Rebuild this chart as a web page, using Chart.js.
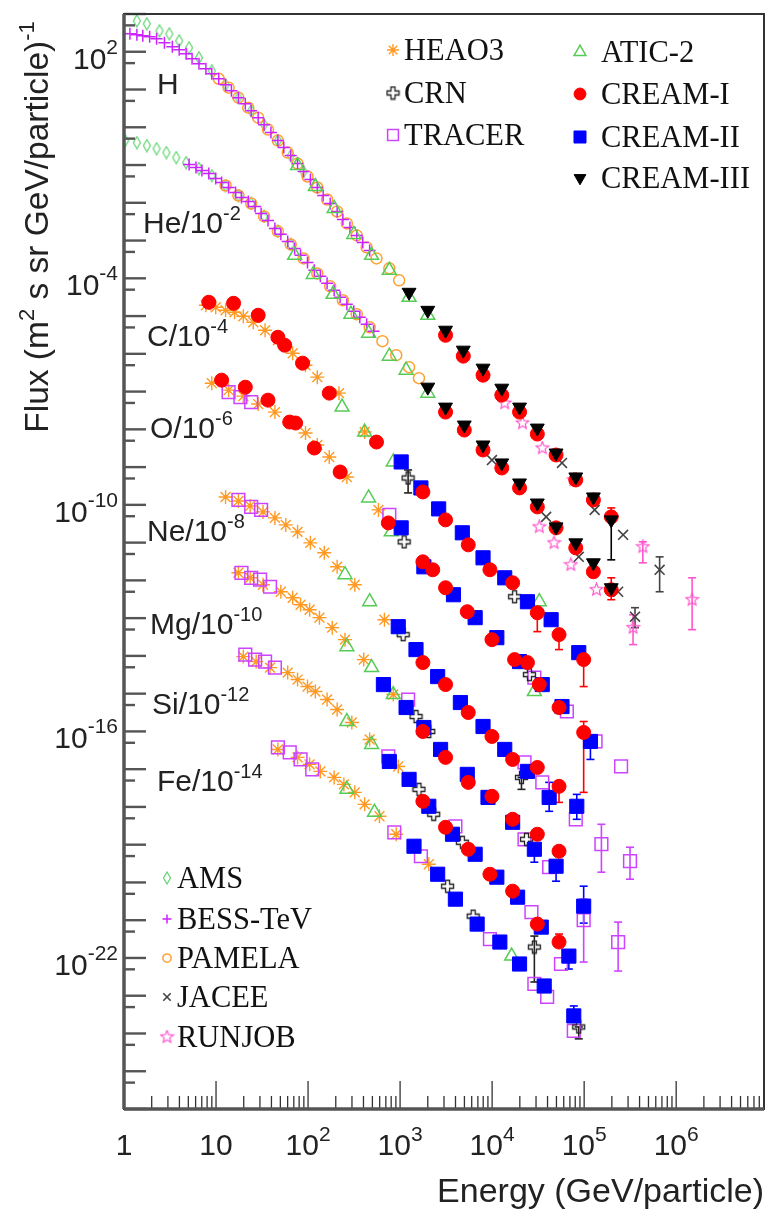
<!DOCTYPE html>
<html>
<head>
<meta charset="utf-8">
<script src="https://cdn.jsdelivr.net/npm/chart.js@4.4.1/dist/chart.umd.min.js"></script>
<style>
  html, body { margin: 0; padding: 0; background: #fff; }
  #wrap { width: 775px; height: 1210px; }
</style>
</head>
<body>
<div id="wrap"><canvas id="flux"></canvas></div>
<script>
// [energy GeV/particle, flux] as plotted (already multiplied by the row factor)
const ams = [
  // H
  [1.38, 659], [1.77, 550], [2.43, 359], [3.11, 299], [3.98, 195], [5.10, 128], [6.53, 69.4], [8.99, 31.5],
  [12.7, 13.4], [17.5, 6.08], [24.1, 2.75], [33.3, 1.17], [47.0, 0.444], [64.8, 0.178], [89.3, 0.0673],
  // He/10^-2
  [1.03, 0.444], [1.38, 0.393], [1.77, 0.327], [2.26, 0.273], [2.89, 0.214], [3.70, 0.158], [4.73, 0.116],
  [6.53, 0.0807], [8.99, 0.0527], [12.7, 0.0287], [17.5, 0.0156], [24.1, 0.00959], [33.3, 0.00435],
  [47.0, 0.00175], [64.8, 7.9e-4]
];
const bess = [
  [1.16, 299], [1.38, 281], [1.60, 265], [1.90, 249], [2.26, 221], [2.75, 173], [3.35, 136], [3.98, 113],
  [4.73, 88.5], [5.49, 65.3], [6.53, 48.2], [7.76, 35.5], [8.99, 26.2], [10.7, 19.3], [12.7, 13.4], [14.7, 9.31],
  [17.5, 6.08], [20.8, 4.22], [24.1, 2.75], [28.7, 1.80], [33.3, 1.17], [39.5, 0.722], [47.0, 0.444], [54.5, 0.290],
  [64.8, 0.178], [76.9, 0.109], [89.3, 0.0673], [106, 0.0413], [126, 0.0254], [146, 0.0156], [174, 0.00959],
  [207, 0.00589], [239, 0.00362], [285, 0.00222], [338, 0.00137], [393, 8.93e-4], [467, 5.48e-4],
  [5.10, 0.103], [6.06, 0.0859], [7.03, 0.0714], [8.35, 0.0596], [9.93, 0.0440], [11.5, 0.0344], [13.7, 0.0254],
  [16.3, 0.0187], [18.9, 0.0138], [22.4, 0.0108], [26.6, 0.0080], [30.9, 0.00522], [36.7, 0.00341],
  [43.6, 0.00209], [50.6, 0.00146], [60.1, 9.5e-4], [71.5, 6.2e-4], [82.9, 4.05e-4], [98.6, 2.64e-4],
  [117, 1.63e-4], [136, 1.13e-4], [161, 7.36e-5], [192, 4.81e-5], [223, 3.14e-5], [264, 2.05e-5],
  [314, 1.34e-5], [365, 9.3e-6], [433, 6.07e-6], [515, 3.96e-6]
];
const pamela = [
  [10.7, 19.3], [13.7, 11.2], [17.5, 6.08], [22.4, 3.31], [28.7, 1.80], [36.7, 0.867], [47.0, 0.444],
  [60.1, 0.214], [76.9, 0.109], [98.6, 0.0497], [126, 0.0254], [161, 0.0122], [207, 0.00589], [264, 0.00284],
  [338, 0.00137], [433, 6.58e-4], [554, 3.37e-4], [764, 1.84e-4], [977, 8.83e-5],
  [12.7, 0.0287], [17.5, 0.0156], [24.1, 0.00959], [33.3, 0.00435], [47.0, 0.00175], [64.8, 7.9e-4],
  [89.3, 3.37e-4], [126, 1.35e-4], [174, 6.14e-5], [239, 2.62e-5], [338, 1.12e-5], [467, 5.06e-6],
  [643, 2.16e-6], [908, 9.2e-7], [1252, 4.44e-7], [1603, 2.27e-7]
];
const jacee = [
  [57440, 1.29e-9], [1.30e5, 7.36e-11], [2.65e5, 1.61e-11], [6.61e5, 1.91e-12],
  [9955, 1.54e-9], [38650, 4.81e-11], [87350, 4.2e-12], [2.34e5, 5.0e-13], [3.57e5, 1.09e-13]
];
const runjob = [
  [13710, 4.95e-8], [21380, 1.47e-8], [35070, 3.20e-9], [77150, 4.57e-10], [4.34e5, 7.74e-12], [1.49e6, 3.08e-13],
  [32540, 2.61e-11], [47100, 9.86e-12], [71640, 2.59e-12], [1.36e5, 5.65e-13], [3.40e5, 5.6e-14]
];
const heao3 = [
  // C
  [7.76, 1.93e-5], [9.93, 1.71e-5], [12.7, 1.42e-5], [15.9, 1.26e-5], [19.8, 9.9e-6], [25.4, 6.86e-6],
  [34.1, 4.22e-6], [47.0, 2.29e-6], [68.1, 1.04e-6], [93.8, 5.0e-7], [126, 2.41e-7], [217, 9.1e-8], [412, 8.47e-9],
  // O
  [8.99, 1.67e-7], [13.7, 1.09e-7], [19.8, 7.59e-8], [28.7, 4.67e-8], [43.6, 2.86e-8], [63.2, 1.56e-8],
  [93.8, 7.98e-9], [126, 3.85e-9], [170, 1.85e-9], [264, 5.48e-10], [582, 7.36e-11],
  // Ne
  [12.7, 1.62e-10], [17.5, 1.27e-10], [23.5, 9.37e-11], [32.4, 6.52e-11], [43.6, 4.52e-11], [57.3, 2.95e-11],
  [76.9, 1.93e-11], [106, 9.86e-12], [150, 5.37e-12], [207, 2.29e-12], [322, 7.66e-13], [676, 9.1e-14],
  // Mg
  [17.5, 1.59e-12], [23.5, 1.17e-12], [32.4, 7.66e-13], [50.6, 5.0e-13], [68.1, 3.47e-13], [82.9, 2.27e-13],
  [104, 1.67e-13], [133, 1.03e-13], [183, 5.6e-14], [252, 2.69e-14], [403, 7.98e-15], [843, 9.46e-16],
  // Si
  [19.8, 9.57e-15], [27.3, 7.06e-15], [38.6, 4.90e-15], [60.1, 3.61e-15], [76.9, 2.36e-15], [98.6, 1.54e-15],
  [120, 1.14e-15], [161, 6.98e-16], [207, 3.80e-16], [299, 1.72e-16], [467, 6.12e-17], [955, 1.18e-17],
  // Fe
  [47.0, 3.33e-17], [76.9, 2.05e-17], [104, 1.34e-17], [136, 8.73e-18], [192, 6.05e-18], [245, 3.95e-18],
  [322, 2.43e-18], [412, 1.17e-18], [597, 5.65e-19], [908, 1.89e-19], [2051, 3.04e-20]
];
const crn = [
  [1222, 5.15e-10], [17540, 3.69e-13], [1107, 1.05e-11], [25420, 3.2e-15], [1079, 3.65e-14], [20850, 6.05e-18],
  [1489, 2.48e-16], [2051, 9.95e-17], [23600, 1.39e-19], [1603, 2.92e-18], [2319, 6.38e-19], [4745, 1.16e-19],
  [3280, 7.96e-21], [6225, 1.28e-21], [28770, 1.95e-22], [87350, 1.49e-24]
];
const tracer = [
  [13.7, 9.68e-8], [18.4, 7.14e-8], [24.1, 5.26e-8], [764, 5.42e-11], [28770, 2.67e-15], [64900, 3.37e-16],
  [1.33e5, 5.42e-17], [2.52e5, 1.18e-17],
  [17.5, 1.35e-10], [24.1, 8.83e-11], [30.9, 7.36e-11], [22490, 1.51e-17], [35070, 4.47e-18], [81100, 4.70e-19],
  [1.54e5, 1.03e-19], [3.15e5, 3.65e-20],
  [18.9, 1.59e-12], [24.1, 1.17e-12], [30.1, 1.04e-12], [38.6, 6.78e-13], [1222, 6.98e-16], [22490, 1.39e-19],
  [41660, 2.54e-20], [98800, 1.01e-21],
  [20.8, 1.08e-14], [26.6, 7.98e-15], [34.1, 7.06e-15], [43.6, 4.90e-15], [745, 2.17e-17], [3990, 3.07e-19],
  [26730, 1.64e-21], [55980, 6.92e-23], [2.34e5, 2.64e-22],
  [47.0, 3.77e-17], [63.2, 2.77e-17], [82.9, 1.81e-17], [111, 9.86e-18], [865, 2.13e-19], [1683, 4.94e-20],
  [9465, 3.16e-22], [28770, 2.05e-23], [39630, 9.27e-24], [77150, 1.17e-24]
];
const atic = [
  [76.9, 0.0969], [120, 0.0270], [192, 0.00708], [314, 0.00145], [490, 4.05e-4], [764, 1.63e-4], [1252, 3.14e-5], [2000, 1.05e-5],
  [71.5, 4.05e-4], [114, 1.27e-4], [187, 3.77e-5], [292, 1.12e-5], [455, 3.52e-6], [764, 8.67e-7], [1162, 3.69e-7], [2000, 9.1e-8],
  [234, 3.88e-8], [412, 8.47e-9], [843, 1.37e-9], [32540, 2.72e-13],
  [455, 1.53e-10], [803, 1.93e-11], [28770, 1.14e-15],
  [252, 1.41e-12], [467, 2.72e-13],
  [264, 1.76e-14], [490, 4.90e-15], [843, 9.46e-16],
  [264, 1.83e-16], [490, 4.52e-17],
  [264, 2.92e-18], [527, 7.21e-19], [16300, 1.12e-22]
];
const creamI = [
  // H, He
  [3119, 3.10e-6], [4860, 8.67e-7], [7965, 2.72e-7], [12740, 8.05e-8], [19860, 2.86e-8], [30980, 7.5e-9],
  [49540, 2.09e-9], [81100, 4.57e-10], [1.26e5, 1.35e-10], [1.97e5, 4.81e-11],
  [3119, 2.86e-8], [4985, 9.57e-9], [7965, 2.84e-9], [12740, 9.48e-10], [19860, 2.81e-10], [30980, 8.83e-11],
  [49540, 2.46e-11], [81100, 7.28e-12], [1.26e5, 1.69e-12], [1.97e5, 5.65e-13],
  // C
  [8.35, 2.32e-5], [15.5, 2.18e-5], [28.7, 1.05e-5], [47.0, 2.75e-6], [55.8, 1.69e-6], [87.1, 5.66e-7],
  [170, 9.1e-8], [554, 4.61e-9], [1769, 2.20e-10], [3119, 4.0e-11], [5505, 8.73e-12], [9465, 1.91e-12],
  [16710, 8.65e-13], [30980, 1.39e-13], [53330, 3.66e-14], [98800, 7.98e-15],
  // O
  [11.5, 2.01e-7], [20.8, 1.31e-7], [36.7, 5.94e-8], [63.2, 1.56e-8], [73.3, 1.47e-8], [117, 3.2e-9],
  [223, 7.43e-10], [745, 3.33e-11], [1769, 3.10e-12], [2264, 1.91e-12], [3119, 6.38e-13], [5370, 1.48e-13],
  [9955, 2.69e-14], [17540, 7.98e-15], [24200, 6.65e-15], [32540, 1.74e-15], [53330, 4.30e-16], [98800, 9.37e-17],
  // Ne, Mg, Si
  [1769, 6.65e-15], [3119, 1.74e-15], [5505, 3.17e-16], [9955, 7.35e-17], [16710, 1.81e-17], [30980, 1.11e-17], [53330, 3.51e-18],
  [1769, 9.95e-17], [3119, 2.05e-17], [5505, 4.47e-18], [9955, 1.91e-18], [16710, 4.70e-19], [30980, 1.89e-19], [53330, 6.7e-20],
  [1769, 1.41e-18], [3119, 2.89e-19], [5505, 7.57e-20], [9465, 1.65e-20], [16710, 5.88e-21], [30980, 7.89e-22], [53330, 2.64e-22]
];
const creamII = [
  [1028, 1.37e-9], [1683, 2.81e-10], [2624, 7.82e-11], [4745, 1.82e-11], [7965, 3.96e-12], [13710, 1.17e-12],
  [24200, 2.72e-13], [43750, 9.1e-14], [87350, 1.22e-14],
  [1028, 2.46e-11], [1813, 2.29e-12], [3800, 4.17e-13], [6540, 1.03e-13], [11250, 3.04e-14], [19860, 7.06e-15],
  [35070, 1.74e-15], [57440, 4.56e-16], [1.17e5, 5.42e-17],
  [955, 5.94e-14], [1489, 1.47e-14], [2560, 2.83e-15], [4520, 5.82e-16], [7965, 1.35e-16], [13710, 3.33e-17],
  [24200, 8.73e-18], [41660, 1.79e-18], [83150, 1.04e-18],
  [659, 1.74e-15], [1162, 4.30e-16], [1813, 1.27e-16], [2755, 3.33e-17], [5370, 7.28e-18], [9020, 1.79e-18],
  [16710, 3.92e-19], [28770, 7.57e-20], [49540, 2.69e-20], [98800, 2.36e-21],
  [764, 1.60e-17], [1252, 5.37e-18], [2051, 1.04e-18], [3710, 1.89e-19], [6540, 5.58e-20], [11250, 1.38e-20],
  [18920, 4.07e-21], [34200, 6.56e-22], [68200, 1.12e-22],
  [1416, 9.1e-20], [2560, 1.65e-20], [3990, 3.61e-21], [6875, 7.89e-22], [12130, 2.64e-22], [19860, 6.92e-23],
  [36810, 1.81e-23], [77150, 2.92e-24]
];
const creamIII = [
  [1252, 4.26e-5], [2000, 1.42e-5], [3119, 4.22e-6], [4860, 1.25e-6], [7965, 4.17e-7], [12740, 1.23e-7],
  [19860, 3.88e-8], [30980, 1.08e-8], [49540, 2.36e-9], [81100, 5.48e-10], [1.26e5, 1.62e-10], [1.97e5, 4.0e-11],
  [2000, 1.31e-7], [3119, 3.88e-8], [4985, 1.30e-8], [7965, 3.85e-9], [12740, 1.29e-9], [19860, 3.80e-10],
  [30980, 1.12e-10], [49540, 2.61e-11], [81100, 9.86e-12], [1.26e5, 2.92e-12], [1.97e5, 6.38e-13]
];

// error bars: [energy, low, high]
const jaceeErr = [[6.61e5, 5.0e-13, 4.2e-12], [3.57e5, 5.6e-14, 1.89e-13]];
const runjobErr = [[4.34e5, 2.92e-12, 1.05e-11], [1.49e6, 4.95e-14, 1.17e-12], [3.40e5, 1.99e-14, 1.23e-13]];
const creamIIIErr = [[1.97e5, 3.5e-12, 4.0e-11]];
const creamIErr = [
  [1.97e5, 4.81e-11, 8.3e-11], [1.97e5, 3.08e-13, 1.17e-12], [30980, 4.39e-14, 1.39e-13], [53330, 1.47e-14, 3.66e-14],
  [98800, 1.54e-15, 7.98e-15], [98800, 2.43e-18, 1.83e-16], [53330, 1.32e-18, 3.51e-18], [53330, 2.64e-22, 4.30e-22]
];
const creamIIErr = [
  [1.17e5, 1.81e-17, 5.42e-17], [41660, 7.66e-19, 4.47e-18], [83150, 4.70e-19, 2.15e-18], [28770, 3.44e-20, 7.57e-20],
  [49540, 1.08e-20, 2.69e-20], [98800, 8.38e-22, 7.96e-21], [68200, 5.09e-23, 1.12e-22], [77150, 2.92e-24, 5.36e-24]
];
const tracerErr = [[1.54e5, 1.87e-20, 3.47e-19], [3.15e5, 1.22e-20, 8.55e-20], [98800, 7.8e-23, 3.61e-21], [2.34e5, 4.5e-23, 8.9e-22]];
const crnErr = [[1222, 2.07e-10, 8.4e-10], [20850, 2.92e-18, 6.05e-18], [28770, 2.31e-23, 3.80e-22], [87350, 7.2e-25, 1.49e-24]];

const sans = '"Liberation Sans", Arial, sans-serif';
const serif = '"Liberation Serif", "Times New Roman", serif';

function mark(w, h, fn) {
  const c = document.createElement('canvas');
  c.width = w; c.height = h;
  fn(c.getContext('2d'), w, h);
  return c;
}
const diamondMark = mark(10, 14, (g, w, h) => {
  g.strokeStyle = '#5fd46f'; g.lineWidth = 1.2;
  g.beginPath(); g.moveTo(w / 2, 1); g.lineTo(w - 1.5, h / 2); g.lineTo(w / 2, h - 1); g.lineTo(1.5, h / 2);
  g.closePath(); g.stroke();
});
const crnMark = mark(15, 15, (g) => {
  g.strokeStyle = '#222'; g.lineWidth = 1.3;
  const p = [[5.5, 1.5], [9.5, 1.5], [9.5, 5.5], [13.5, 5.5], [13.5, 9.5], [9.5, 9.5], [9.5, 13.5], [5.5, 13.5],
    [5.5, 9.5], [1.5, 9.5], [1.5, 5.5], [5.5, 5.5]];
  g.beginPath(); p.forEach(([x, y], i) => i ? g.lineTo(x, y) : g.moveTo(x, y)); g.closePath(); g.stroke();
});
const starMark = mark(15, 15, (g) => {
  g.strokeStyle = '#ff55cc'; g.lineWidth = 1.2;
  g.beginPath();
  for (let i = 0; i < 10; i++) {
    const r = i % 2 ? 2.9 : 6.5, a = -Math.PI / 2 + i * Math.PI / 5;
    const x = 7.5 + r * Math.cos(a), y = 7.5 + r * Math.sin(a);
    i ? g.lineTo(x, y) : g.moveTo(x, y);
  }
  g.closePath(); g.stroke();
});

const look = {
  'AMS': { style: diamondMark, color: '#5fd46f' },
  'BESS-TeV': { style: 'cross', radius: 6, color: '#cc22ff', width: 1.5 },
  'PAMELA': { style: 'circle', radius: 5.5, color: '#ffa033', width: 1.5 },
  'JACEE': { style: 'crossRot', radius: 7, color: '#444', width: 1.6 },
  'RUNJOB': { style: starMark, color: '#ff55cc' },
  'HEAO3': { style: 'star', radius: 7, color: '#ff9922', width: 1.4 },
  'CRN': { style: crnMark, color: '#222' },
  'TRACER': { style: 'rect', radius: 9, color: '#cc44ff', width: 1.5 },
  'ATIC-2': { style: 'triangle', radius: 8, color: '#55cc55', width: 1.5 },
  'CREAM-I': { style: 'circle', radius: 7, color: '#ff0000', width: 1, fill: true },
  'CREAM-II': { style: 'rect', radius: 10, color: '#0000ff', width: 1, fill: true },
  'CREAM-III': { style: 'triangle', radius: 8, color: '#000000', width: 1, fill: true, rotation: 180 }
};

// drawing order: first = on top
const series = [
  ['CREAM-III', creamIII], ['CREAM-I', creamI], ['CREAM-II', creamII], ['CRN', crn], ['JACEE', jacee],
  ['RUNJOB', runjob], ['TRACER', tracer], ['ATIC-2', atic], ['HEAO3', heao3], ['BESS-TeV', bess],
  ['PAMELA', pamela], ['AMS', ams]
];
const errors = [
  ['JACEE', jaceeErr], ['RUNJOB', runjobErr], ['CREAM-III', creamIIIErr], ['CREAM-I', creamIErr],
  ['CREAM-II', creamIIErr], ['TRACER', tracerErr], ['CRN', crnErr]
];

const datasets = series.map(([name, pts], i) => {
  const s = look[name];
  return {
    label: name,
    data: pts.map(([x, y]) => ({ x, y })),
    showLine: false,
    order: i,
    pointStyle: s.style,
    pointRadius: s.radius || 6,
    pointRotation: s.rotation || 0,
    pointBorderColor: s.color,
    pointBackgroundColor: s.fill ? s.color : 'rgba(0,0,0,0)',
    pointBorderWidth: s.width || 1
  };
});

function line(ctx, x1, y1, x2, y2) {
  ctx.beginPath(); ctx.moveTo(x1, y1); ctx.lineTo(x2, y2); ctx.stroke();
}
// text with raised parts: parts = [[text, isSup], ...]
function supText(ctx, parts, x, y, align, big, small, rise, family) {
  const font = (s) => `${s ? small : big}px ${family}`;
  let total = 0;
  parts.forEach(([t, s]) => { ctx.font = font(s); total += ctx.measureText(t).width; });
  let cx = align === 'right' ? x - total : align === 'center' ? x - total / 2 : x;
  ctx.textAlign = 'left';
  parts.forEach(([t, s]) => {
    ctx.font = font(s);
    ctx.fillText(t, cx, s ? y - rise : y);
    cx += ctx.measureText(t).width;
  });
}

const errorBars = {
  id: 'errorBars',
  beforeDatasetsDraw(chart) {
    const { ctx, chartArea: a } = chart;
    const xs = chart.scales.x, ys = chart.scales.y;
    ctx.save();
    ctx.beginPath(); ctx.rect(a.left, a.top, a.right - a.left, a.bottom - a.top); ctx.clip();
    errors.forEach(([name, list]) => {
      ctx.strokeStyle = look[name].color;
      ctx.lineWidth = 1.6;
      list.forEach(([e, lo, hi]) => {
        const px = xs.getPixelForValue(e), p1 = ys.getPixelForValue(lo), p2 = ys.getPixelForValue(hi);
        line(ctx, px, p1, px, p2);
        line(ctx, px - 4, p1, px + 4, p1);
        line(ctx, px - 4, p2, px + 4, p2);
      });
    });
    ctx.restore();
  }
};

const decor = {
  id: 'decor',
  afterDraw(chart) {
    const { ctx, chartArea: a } = chart;
    const xs = chart.scales.x, ys = chart.scales.y;
    const X = (v) => xs.getPixelForValue(v), Y = (v) => ys.getPixelForValue(v);
    ctx.save();

    // y ticks (inside)
    ctx.strokeStyle = '#555'; ctx.lineWidth = 2.4;
    for (let k = -26; k <= 3; k++) {
      const y = Y(Math.pow(10, k));
      line(ctx, a.left, y, a.left + 22, y);
      if (k > -26) {
        const y5 = Y(5 * Math.pow(10, k - 1));
        line(ctx, a.left, y5, a.left + 11, y5);
      }
    }
    // x ticks (inside)
    ctx.strokeStyle = '#333'; ctx.lineWidth = 1.3;
    for (let d = 0; d <= 6; d++) {
      const base = Math.pow(10, d);
      line(ctx, X(base), a.bottom, X(base), a.bottom - 28);
      for (let m = 2; m <= 9; m++) {
        const v = m * base;
        if (v > xs.max) break;
        line(ctx, X(v), a.bottom, X(v), a.bottom - 13);
      }
    }
    // frame
    ctx.strokeStyle = '#333'; ctx.lineWidth = 2;
    ctx.strokeRect(a.left, a.top, a.right - a.left, a.bottom - a.top);
    ctx.strokeStyle = '#555'; ctx.lineWidth = 3.5;
    line(ctx, a.left, a.top, a.left, a.bottom);
    line(ctx, a.left, a.bottom, a.right, a.bottom);

    ctx.fillStyle = '#222';
    // y tick labels
    [2, -4, -10, -16, -22].forEach((k) => {
      const y = Y(Math.pow(10, k));
      supText(ctx, [['10', 0], [String(k), 1]], a.left - 6, y + 17, 'right', 30, 21, 15, sans);
    });
    // x tick labels
    ['1', '10', '2', '3', '4', '5', '6'].forEach((lab, d) => {
      const x = X(Math.pow(10, d));
      const parts = d < 2 ? [[lab, 0]] : [['10', 0], [lab, 1]];
      supText(ctx, parts, x, a.bottom + 46, 'center', 30, 21, 14, sans);
    });
    // axis titles
    supText(ctx, [['Energy (GeV/particle)', 0]], a.right, a.bottom + 93, 'right', 34, 22, 13, sans);
    ctx.save();
    ctx.translate(48, 227);
    ctx.rotate(-Math.PI / 2);
    supText(ctx, [['Flux (m', 0], ['2', 1], [' s sr GeV/particle)', 0], ['-1', 1]], 0, 0, 'center', 33.5, 22, 14, sans);
    ctx.restore();

    // element row labels
    const rows = [
      ['H', '', 33, 94], ['He/10', '-2', 19, 233], ['C/10', '-4', 23, 346], ['O/10', '-6', 26, 438],
      ['Ne/10', '-8', 23, 541], ['Mg/10', '-10', 26, 634], ['Si/10', '-12', 28, 714], ['Fe/10', '-14', 33, 791]
    ];
    rows.forEach(([t, e, dx, y]) => {
      const parts = e ? [[t, 0], [e, 1]] : [[t, 0]];
      supText(ctx, parts, a.left + dx, y, 'left', 30, 20, 13, sans);
    });

    // legends
    const items = [
      ['HEAO3', 393, 50], ['CRN', 393, 93], ['TRACER', 393, 135],
      ['ATIC-2', 580, 52], ['CREAM-I', 580, 94], ['CREAM-II', 580, 137], ['CREAM-III', 580, 178],
      ['AMS', 167, 878], ['BESS-TeV', 167, 919], ['PAMELA', 167, 958], ['JACEE', 167, 997], ['RUNJOB', 167, 1037]
    ];
    items.forEach(([name, x, y]) => {
      const s = look[name];
      const tx = x + (x === 580 ? 21 : x === 167 ? 10 : 11);
      ctx.save();
      ctx.strokeStyle = s.color;
      ctx.fillStyle = s.fill ? s.color : 'rgba(0,0,0,0)';
      ctx.lineWidth = s.width || 1;
      const r = (s.radius || 6) * (x === 167 ? 0.75 : 0.85);
      Chart.helpers.drawPoint(ctx, { pointStyle: s.style, rotation: s.rotation || 0, radius: r, borderWidth: s.width || 1 }, x, y);
      ctx.restore();
      ctx.fillStyle = '#111';
      ctx.font = `30.5px ${serif}`;
      ctx.textAlign = 'left';
      ctx.fillText(name, tx, y + 10);
    });
    ctx.restore();
  }
};

new Chart(document.getElementById('flux'), {
  type: 'scatter',
  data: { datasets },
  options: {
    responsive: true,
    maintainAspectRatio: false,
    animation: false,
    events: [],
    layout: { padding: { left: 124, right: 2, top: 14, bottom: 101 } },
    plugins: { legend: { display: false }, tooltip: { enabled: false } },
    scales: {
      x: { type: 'logarithmic', min: 1, max: 9e6, display: false },
      y: { type: 'logarithmic', min: 1e-26, max: 1e3, display: false }
    }
  },
  plugins: [errorBars, decor]
});
</script>
</body>
</html>
